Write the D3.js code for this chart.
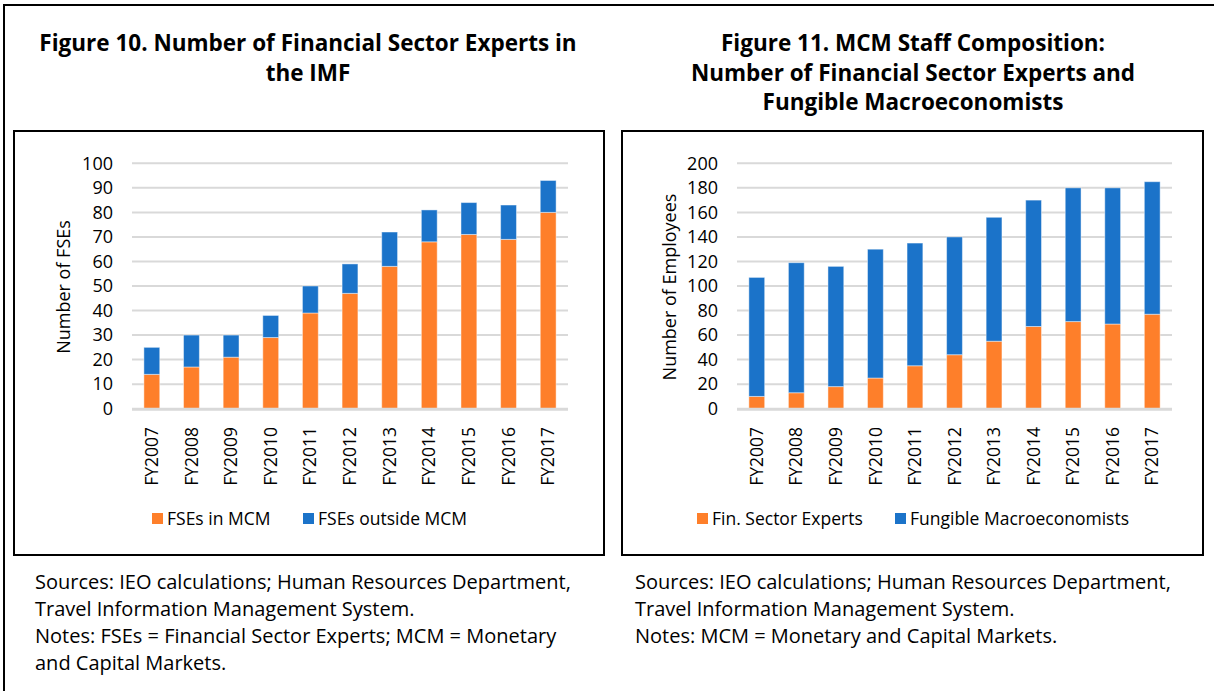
<!DOCTYPE html>
<html>
<head>
<meta charset="utf-8">
<script src="https://cdn.jsdelivr.net/npm/d3@7"></script>
<style>
  body { margin: 0; background: #fff; }
  svg text { font-family: "Open Sans", "Noto Sans", sans-serif; fill: #000; }
</style>
</head>
<body>
<div id="chart"></div>
<script>
// data
var years = ["FY2007", "FY2008", "FY2009", "FY2010", "FY2011", "FY2012",
             "FY2013", "FY2014", "FY2015", "FY2016", "FY2017"];

// figure 10
var fseInMcm      = [14, 17, 21, 29, 39, 47, 58, 68, 71, 69, 80];
var fseOutsideMcm = [11, 13,  9,  9, 11, 12, 14, 13, 13, 14, 13];
var fig10Ticks = [0, 10, 20, 30, 40, 50, 60, 70, 80, 90, 100];

// figure 11
var finSectorExperts = [10, 13, 18, 25, 35, 44, 55, 67, 71, 69, 77];
var fungibleMacro    = [97, 106, 98, 105, 100, 96, 101, 103, 109, 111, 108];
var fig11Ticks = [0, 20, 40, 60, 80, 100, 120, 140, 160, 180, 200];

var orange = "#FE7F2A";
var blue = "#1B73C9";
var gridColor = "#D9D9D9";

var svgWidth = 1214;
var svgHeight = 691;

var svg = d3.select("#chart")
  .append("svg")
  .attr("width", svgWidth)
  .attr("height", svgHeight);

// outer frame (runs off the right and bottom of the page)
svg.append("rect")
  .attr("x", 4)
  .attr("y", 5)
  .attr("width", 1230)
  .attr("height", 720)
  .attr("fill", "none")
  .attr("stroke", "#000")
  .attr("stroke-width", 2);

function drawPanel(opts) {
  var g = svg.append("g");

  // titles
  opts.title.forEach(function(line, i) {
    g.append("text")
      .attr("x", opts.titleX)
      .attr("y", 51 + i * 29.5)
      .attr("text-anchor", "middle")
      .attr("font-size", "22.5px")
      .attr("font-weight", "bold")
      .text(line);
  });

  // chart box
  g.append("rect")
    .attr("x", opts.box[0])
    .attr("y", 131)
    .attr("width", opts.box[1] - opts.box[0])
    .attr("height", 424)
    .attr("fill", "none")
    .attr("stroke", "#000")
    .attr("stroke-width", 2);

  var x = d3.scaleBand()
    .domain(years)
    .range(opts.xRange)
    .paddingInner(0.6)
    .paddingOuter(0.3);

  var y = d3.scaleLinear()
    .domain([0, opts.yMax])
    .range([408.7, 163.3]);

  // gridlines
  g.append("g")
    .selectAll("line")
    .data(opts.ticks.slice(1))
    .enter()
    .append("line")
    .attr("x1", opts.xRange[0])
    .attr("x2", opts.xRange[1])
    .attr("y1", d => y(d))
    .attr("y2", d => y(d))
    .attr("stroke", gridColor)
    .attr("stroke-width", 2);

  // y axis labels
  var yAxis = d3.axisLeft(y)
    .tickValues(opts.ticks)
    .tickSize(0)
    .tickPadding(0);

  g.append("g")
    .attr("transform", `translate(${opts.yLabelX}, 0)`)
    .call(yAxis)
    .call(s => s.select(".domain").remove())
    .selectAll("text")
    .attr("font-family", null)
    .attr("font-size", "18px")
    .attr("fill", "#000");

  // stacked bars
  var rows = years.map(function(yr, i) {
    return { year: yr, a: opts.seriesA[i], b: opts.seriesB[i] };
  });
  var stack = d3.stack().keys(["a", "b"])(rows);
  var colors = [orange, blue];

  stack.forEach(function(layer, li) {
    g.append("g")
      .selectAll("rect")
      .data(layer)
      .enter()
      .append("rect")
      .attr("x", d => x(d.data.year))
      .attr("width", x.bandwidth())
      .attr("y", d => y(d[1]))
      .attr("height", d => y(d[0]) - y(d[1]))
      .attr("fill", colors[li])
      .attr("stroke", "#fff")
      .attr("stroke-opacity", 0.45)
      .attr("stroke-width", 1);
  });

  // baseline
  g.append("line")
    .attr("x1", opts.xRange[0])
    .attr("x2", opts.xRange[1])
    .attr("y1", y(0) + 0.5)
    .attr("y2", y(0) + 0.5)
    .attr("stroke", gridColor)
    .attr("stroke-width", 3);

  // x labels, rotated
  var xAxis = d3.axisBottom(x).tickSize(0).tickPadding(0);
  g.append("g")
    .attr("transform", "translate(0, 427)")
    .call(xAxis)
    .call(s => s.select(".domain").remove())
    .selectAll("text")
    .attr("font-family", null)
    .attr("font-size", "17.5px")
    .attr("fill", "#000")
    .attr("text-anchor", "end")
    .attr("transform", "rotate(-90)")
    .attr("x", 0)
    .attr("y", 0)
    .attr("dy", "0.35em");

  // y axis title
  g.append("text")
    .attr("transform", `translate(${opts.yTitleX}, 287) rotate(-90)`)
    .attr("text-anchor", "middle")
    .attr("font-size", "18px")
    .text(opts.yTitle);

  // legend
  opts.legend.forEach(function(item, i) {
    g.append("rect")
      .attr("x", item.x)
      .attr("y", 513)
      .attr("width", 11)
      .attr("height", 11)
      .attr("fill", colors[i]);
    g.append("text")
      .attr("x", item.x + 15)
      .attr("y", 525)
      .attr("font-size", "17.5px")
      .text(item.label);
  });

  // notes
  opts.notes.forEach(function(line, i) {
    g.append("text")
      .attr("x", opts.notesX)
      .attr("y", 589 + i * 27)
      .attr("font-size", "20px")
      .text(line);
  });
}

drawPanel({
  title: ["Figure 10. Number of Financial Sector Experts in", "the IMF"],
  titleX: 308,
  box: [14, 604],
  xRange: [132, 568],
  yMax: 100,
  ticks: fig10Ticks,
  yLabelX: 113,
  yTitleX: 70,
  yTitle: "Number of FSEs",
  seriesA: fseInMcm,
  seriesB: fseOutsideMcm,
  legend: [{ x: 152, label: "FSEs in MCM" }, { x: 303, label: "FSEs outside MCM" }],
  notesX: 35,
  notes: ["Sources: IEO calculations; Human Resources Department,",
          "Travel Information Management System.",
          "Notes: FSEs = Financial Sector Experts; MCM = Monetary",
          "and Capital Markets."]
});

drawPanel({
  title: ["Figure 11. MCM Staff Composition:",
          "Number of Financial Sector Experts and",
          "Fungible Macroeconomists"],
  titleX: 913,
  box: [622, 1203],
  xRange: [737, 1172],
  yMax: 200,
  ticks: fig11Ticks,
  yLabelX: 718,
  yTitleX: 676,
  yTitle: "Number of Employees",
  seriesA: finSectorExperts,
  seriesB: fungibleMacro,
  legend: [{ x: 697, label: "Fin. Sector Experts" }, { x: 895, label: "Fungible Macroeconomists" }],
  notesX: 635,
  notes: ["Sources: IEO calculations; Human Resources Department,",
          "Travel Information Management System.",
          "Notes: MCM = Monetary and Capital Markets."]
});
</script>
</body>
</html>
